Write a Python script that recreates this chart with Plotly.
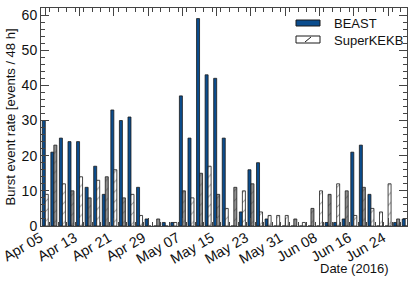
import pandas as pd
import plotly.graph_objects as go

# 48 h bins, labelled by bin centre
bin_centres = [d.strftime("%Y-%m-%d") for d in pd.date_range("2016-04-05", periods=43, freq="2D")]

beast = [30, 21, 25, 24, 24, 11, 17, 9, 33, 30, 31, 11, 2, 0, 1, 1,
         37, 25, 59, 43, 42, 25, 0, 4, 16, 18, 2, 0, 0, 0, 0, 0,
         0, 1, 1, 2, 21, 23, 9, 0, 0, 1, 2]
superkekb = [9, 23, 12, 10, 14, 8, 13, 14, 16, 8, 9, 3, 0, 2, 0, 1,
             10, 8, 15, 17, 9, 5, 11, 10, 12, 4, 3, 3, 3, 2, 1, 5,
             10, 9, 12, 10, 3, 11, 5, 4, 12, 2, 0]

y_ticks = [0, 10, 20, 30, 40, 50, 60]

# raster look of the hatched bars in the reference (white / grey)
W, G = "#ffffff", "#8f8f8f"
hatch_bg = [W, G, W, G, W, G, W, G, W, G, W, W, W, G, W, W,
            G, W, G, W, G, W, G, W, G, W, W, W, W, G, W, G,
            W, G, W, G, W, G, W, W, W, G, W]

BLUE = "#0b4d8e"
FONT = "Liberation Sans, Arial, Helvetica, sans-serif"

fig = go.Figure()
fig.add_trace(go.Bar(
    x=bin_centres, y=beast, name="BEAST",
    marker=dict(color=BLUE, line=dict(color="#1a1a1a", width=0.8)),
))
fig.add_trace(go.Bar(
    x=bin_centres, y=superkekb, name="SuperKEKB",
    marker=dict(color=hatch_bg, line=dict(color="#1a1a1a", width=0.8),
                pattern=dict(shape="/", fgcolor="#222222", bgcolor=hatch_bg,
                             size=7, solidity=0.15)),
))

axis_common = dict(
    showline=True, linecolor="#444444", linewidth=1, mirror="allticks",
    ticks="inside", tickcolor="#444444", showgrid=False, zeroline=False,
    automargin=False,
)

L, R, T, B = 41, 8, 8, 55
PW, PH = 415 - L - R, 281 - T - B


def px(x):
    return (x - L) / PW


def py(y):
    return (281 - B - y) / PH


fig.update_layout(
    width=415, height=281,
    margin=dict(l=L, r=R, t=T, b=B, autoexpand=False),
    paper_bgcolor="white", plot_bgcolor="white",
    barmode="group", bargap=0.3, bargroupgap=0,
    showlegend=False,
    font=dict(family=FONT, size=12, color="#111111"),
    xaxis=dict(
        type="date",
        range=["2016-04-04", "2016-06-28 10:00"],
        tick0="2016-04-05", dtick=8 * 86400000, tickformat="%b %d",
        tickangle=-30, ticklen=8, tickfont=dict(size=14.5),
        ticklabelshift=-5, ticklabelstandoff=-3,
        minor=dict(dtick=2 * 86400000, ticks="inside", ticklen=4, tickcolor="#444444",
                   showgrid=False),
        **axis_common,
    ),
    yaxis=dict(
        range=[0, 62], tickvals=y_ticks, ticklen=8, tickfont=dict(size=14),
        minor=dict(dtick=2, ticks="inside", ticklen=4, tickcolor="#444444", showgrid=False),
        title=dict(text="Burst event rate [events / 48 h]", font=dict(size=13), standoff=3),
        **axis_common,
    ),
    shapes=[
        dict(type="rect", xref="paper", yref="paper",
             x0=px(296), x1=px(320), y0=py(26), y1=py(20),
             fillcolor=BLUE, line=dict(color="#1a1a1a", width=1)),
        dict(type="rect", xref="paper", yref="paper",
             x0=px(296), x1=px(320), y0=py(43), y1=py(36),
             fillcolor="white", line=dict(color="#1a1a1a", width=1)),
        dict(type="line", xref="paper", yref="paper",
             x0=px(305), x1=px(311), y0=py(42), y1=py(37),
             line=dict(color="#1a1a1a", width=1)),
    ],
    annotations=[
        dict(text="BEAST", xref="paper", yref="paper", x=px(332), y=py(23),
             xanchor="left", yanchor="middle", showarrow=False, font=dict(size=13)),
        dict(text="SuperKEKB", xref="paper", yref="paper", x=px(332), y=py(40),
             xanchor="left", yanchor="middle", showarrow=False, font=dict(size=13)),
        dict(text="Date (2016)", xref="paper", yref="paper", x=px(391), y=py(268),
             xanchor="right", yanchor="middle", showarrow=False, font=dict(size=13)),
    ],
)

fig.write_html("out.html", config={"displayModeBar": False},
               post_script="document.body.style.margin='0';")
